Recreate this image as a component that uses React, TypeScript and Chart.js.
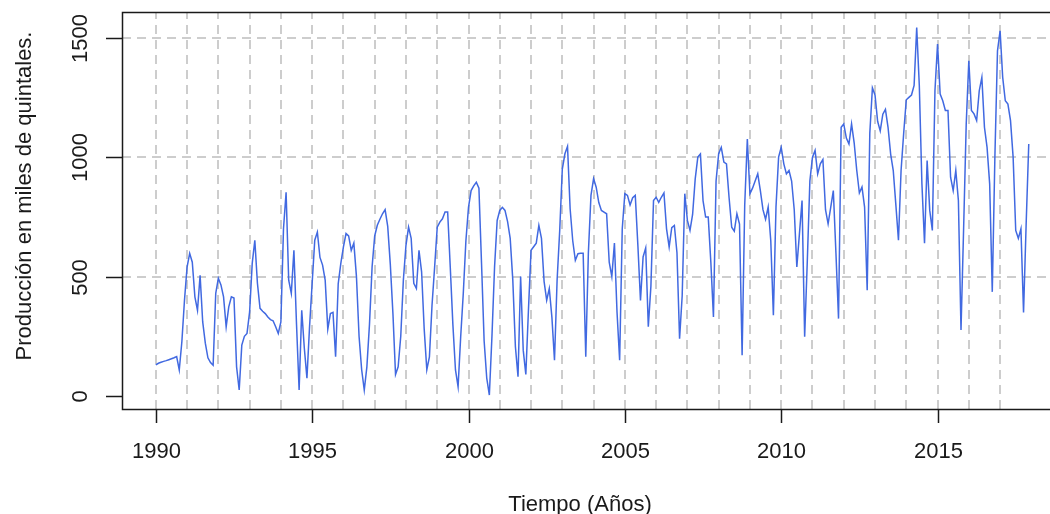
import React, { useEffect, useRef } from "react";
import { Chart, registerables } from "chart.js";

Chart.register(...registerables);

const startYear = 1990;
const v1990 = [130, 137, 141, 145, 148, 152, 156, 160, 165, 109, 227, 400];
const v1991 = [540, 597, 560, 415, 359, 505, 310, 221, 160, 140, 129, 430];
const v1992 = [493, 465, 415, 290, 373, 415, 410, 122, 25, 213, 250, 262];
const v1993 = [352, 555, 652, 472, 367, 355, 345, 331, 320, 315, 290, 262];
const v1994 = [310, 700, 853, 485, 430, 610, 300, 25, 359, 200, 75, 290];
const v1995 = [472, 652, 686, 580, 548, 485, 280, 345, 350, 164, 470, 555];
const v1996 = [624, 680, 670, 610, 640, 500, 250, 110, 25, 122, 300, 540];
const v1997 = [670, 715, 740, 763, 780, 710, 550, 345, 90, 122, 250, 485];
const v1998 = [631, 707, 660, 472, 450, 610, 520, 280, 110, 164, 380, 540];
const v1999 = [707, 728, 742, 770, 770, 540, 300, 109, 39, 248, 430, 650];
const v2000 = [790, 860, 880, 895, 870, 555, 230, 75, 4, 250, 540, 735];
const v2001 = [777, 790, 777, 730, 660, 485, 206, 81, 500, 192, 90, 359];
const v2002 = [610, 625, 640, 714, 660, 480, 401, 450, 330, 150, 485, 693];
const v2003 = [950, 1014, 1045, 784, 650, 568, 596, 598, 598, 164, 600, 840];
const v2004 = [910, 874, 810, 777, 770, 763, 560, 500, 640, 350, 150, 700];
const v2005 = [847, 840, 800, 830, 840, 630, 400, 582, 620, 290, 460, 818];
const v2006 = [832, 811, 832, 850, 700, 624, 705, 714, 600, 240, 420, 847];
const v2007 = [735, 693, 760, 909, 1000, 1013, 818, 749, 749, 560, 331, 900];
const v2008 = [1014, 1041, 979, 972, 830, 707, 690, 763, 720, 171, 800, 1076];
const v2009 = [847, 870, 900, 930, 860, 780, 740, 791, 650, 338, 791, 1000];
const v2010 = [1041, 972, 930, 944, 900, 780, 540, 680, 818, 248, 560, 900];
const v2011 = [1000, 1028, 930, 972, 990, 780, 721, 790, 860, 600, 324, 1125];
const v2012 = [1139, 1080, 1055, 1139, 1060, 944, 850, 875, 791, 443, 1100, 1290];
const v2013 = [1260, 1150, 1110, 1180, 1200, 1125, 1013, 944, 800, 652, 944, 1100];
const v2014 = [1240, 1250, 1260, 1300, 1543, 1300, 888, 640, 986, 777, 693, 1278];
const v2015 = [1473, 1264, 1236, 1195, 1195, 916, 860, 944, 818, 276, 700, 1139];
const v2016 = [1403, 1195, 1181, 1153, 1278, 1334, 1125, 1041, 888, 436, 1000, 1445];
const v2017 = [1529, 1334, 1236, 1222, 1153, 1000, 693, 660, 700, 350, 720, 1055];

const yearlyValues = [
  v1990, v1991, v1992, v1993, v1994, v1995, v1996, v1997, v1998, v1999,
  v2000, v2001, v2002, v2003, v2004, v2005, v2006, v2007, v2008, v2009,
  v2010, v2011, v2012, v2013, v2014, v2015, v2016, v2017,
];

const xTickYears = [1990, 1995, 2000, 2005, 2010, 2015];
const gridYears = [
  1990, 1991, 1992, 1993, 1994, 1995, 1996, 1997, 1998, 1999, 2000, 2001, 2002, 2003,
  2004, 2005, 2006, 2007, 2008, 2009, 2010, 2011, 2012, 2013, 2014, 2015, 2016, 2017,
];
const yTicks = [0, 500, 1000, 1500];
const yGridValues = [500, 1000, 1500];
const xTitle = "Tiempo (Años)";
const yTitle = "Producción en miles de quintales.";

const FONT = '22px "Liberation Sans", Arial, sans-serif';
const INK = "#1a1a1a";

const rStylePlugin = {
  id: "rStyle",
  beforeDatasetsDraw(chart: any) {
    const { ctx, chartArea: a, scales } = chart;
    const x = scales.x;
    const y = scales.y;
    ctx.save();
    ctx.strokeStyle = "#bdbdbd";
    ctx.lineWidth = 1.5;
    ctx.setLineDash([9, 6]);
    for (const yr of gridYears) {
      const px = Math.round(x.getPixelForValue(yr));
      ctx.beginPath();
      ctx.moveTo(px, a.bottom);
      ctx.lineTo(px, a.top);
      ctx.stroke();
    }
    for (const v of yGridValues) {
      const py = Math.round(y.getPixelForValue(v));
      ctx.beginPath();
      ctx.moveTo(a.left, py);
      ctx.lineTo(a.right, py);
      ctx.stroke();
    }
    ctx.restore();
  },
  afterDatasetsDraw(chart: any) {
    const { ctx, chartArea: a, scales } = chart;
    const x = scales.x;
    const y = scales.y;
    ctx.save();
    ctx.strokeStyle = INK;
    ctx.lineWidth = 1.5;
    ctx.setLineDash([]);
    ctx.beginPath();
    ctx.moveTo(a.right + 5, a.top + 0.5);
    ctx.lineTo(a.left + 0.5, a.top + 0.5);
    ctx.lineTo(a.left + 0.5, a.bottom + 0.5);
    ctx.lineTo(a.right + 5, a.bottom + 0.5);
    ctx.stroke();
    ctx.fillStyle = INK;
    ctx.font = FONT;
    ctx.textAlign = "center";
    ctx.textBaseline = "alphabetic";
    for (const yr of xTickYears) {
      const px = Math.round(x.getPixelForValue(yr)) + 0.5;
      ctx.beginPath();
      ctx.moveTo(px, a.bottom);
      ctx.lineTo(px, a.bottom + 14);
      ctx.stroke();
      ctx.fillText(String(yr), px, 458);
    }
    for (const v of yTicks) {
      const py = Math.round(y.getPixelForValue(v)) + 0.5;
      ctx.beginPath();
      ctx.moveTo(a.left - 16, py);
      ctx.lineTo(a.left, py);
      ctx.stroke();
      ctx.save();
      ctx.translate(87, py);
      ctx.rotate(-Math.PI / 2);
      ctx.fillText(String(v), 0, 0);
      ctx.restore();
    }
    ctx.fillText(xTitle, 580, 511);
    ctx.save();
    ctx.translate(31, 196);
    ctx.rotate(-Math.PI / 2);
    ctx.fillText(yTitle, 0, 0);
    ctx.restore();
    ctx.restore();
  },
};

export default function App() {
  const canvasRef = useRef<HTMLCanvasElement | null>(null);

  useEffect(() => {
    const canvas = canvasRef.current;
    if (!canvas) return;
    const points: { x: number; y: number }[] = [];
    yearlyValues.forEach((vals, yi) => {
      vals.forEach((v, mi) => {
        points.push({ x: startYear + yi + mi / 12, y: v });
      });
    });
    const chart = new Chart(canvas, {
      type: "line",
      data: {
        datasets: [
          {
            data: points,
            borderColor: "#4169E1",
            borderWidth: 1.5,
            pointRadius: 0,
            fill: false,
            tension: 0,
          },
        ],
      },
      options: {
        responsive: false,
        animation: false,
        devicePixelRatio: 1,
        layout: { padding: { left: 122, top: 12, right: 0, bottom: 105 } },
        plugins: { legend: { display: false }, tooltip: { enabled: false } },
        scales: {
          x: { type: "linear", display: false, min: 1988.919, max: 2018.596 },
          y: { type: "linear", display: false, min: -54.4, max: 1607.6 },
        },
      },
      plugins: [rStylePlugin],
    });
    return () => chart.destroy();
  }, []);

  return (
    <div style={{ position: "fixed", left: 0, top: 0, width: 1050, height: 514, background: "#fff" }}>
      <canvas ref={canvasRef} width={1050} height={514} style={{ display: "block" }} />
    </div>
  );
}
